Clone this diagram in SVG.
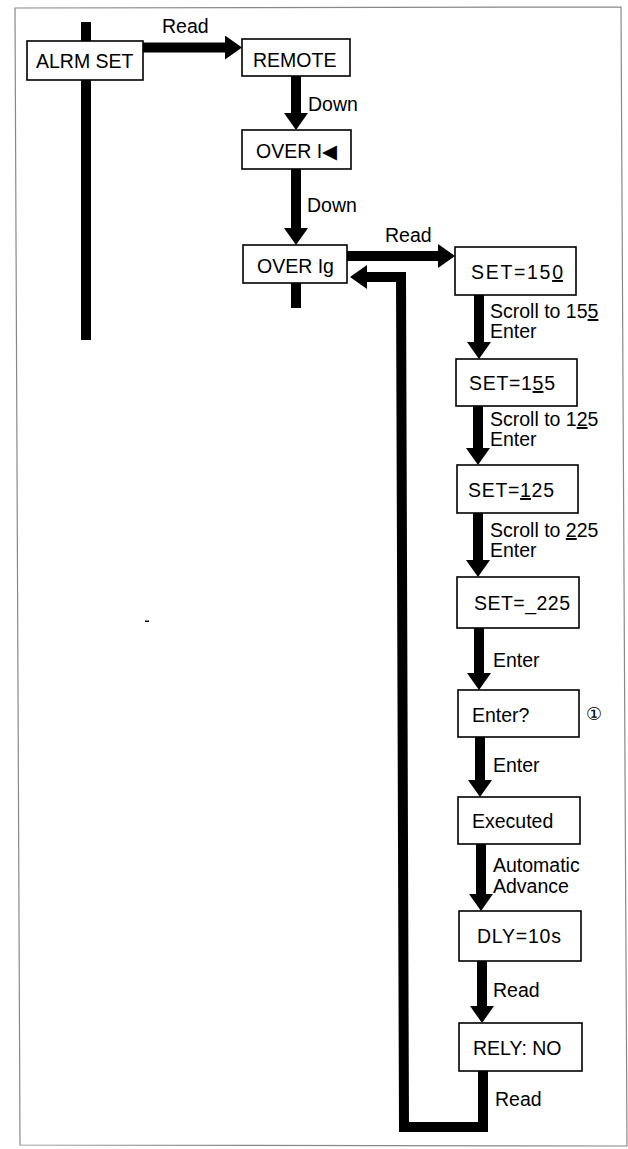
<svg xmlns="http://www.w3.org/2000/svg" width="628" height="1149" viewBox="0 0 628 1149">
<style>
.box{fill:#fff;stroke:#000;stroke-width:1.6}
.t{font-family:"Liberation Sans","DejaVu Sans","Noto Sans CJK SC",sans-serif;font-size:19.5px;fill:#000}
.c{fill:none;stroke:#000;stroke-width:10;stroke-linejoin:miter}
.u{text-decoration:underline}
</style>
<defs>
<marker id="ah" markerUnits="userSpaceOnUse" markerWidth="17" markerHeight="24" viewBox="0 0 17 24" refX="0" refY="12" orient="auto"><path d="M0,0L17,12L0,24Z" fill="#000"/></marker>
</defs>
<rect width="628" height="1149" fill="#fff"/>
<path d="M15,8 L621,7 L627,1146 L20,1145 Z" fill="none" stroke="#888" stroke-width="1.2"/>
<rect x="145" y="620.5" width="4" height="1.5" fill="#000"/>
<g id="connectors">
<path class="c" d="M86,22 V340"/>
<path class="c" d="M143,47.5 H225" stroke-width="9" marker-end="url(#ah)"/>
<path class="c" d="M296,76 V113" marker-end="url(#ah)"/>
<path class="c" d="M296,169 V228" marker-end="url(#ah)"/>
<path class="c" d="M296,283 V308"/>
<path class="c" d="M347,256 H438" stroke-width="9" marker-end="url(#ah)"/>
<path class="c" d="M479,295 V342" marker-end="url(#ah)"/>
<path class="c" d="M478,406 V448" marker-end="url(#ah)"/>
<path class="c" d="M478,513 V560" marker-end="url(#ah)"/>
<path class="c" d="M479,628 V673" marker-end="url(#ah)"/>
<path class="c" d="M480,737 V780" marker-end="url(#ah)"/>
<path class="c" d="M481,844 V894" marker-end="url(#ah)"/>
<path class="c" d="M482,961 V1006" marker-end="url(#ah)"/>
<path class="c" d="M483,1071 V1127 H404 L401,277 H367" marker-end="url(#ah)"/>
<text class="t" x="162" y="33">Read</text>
<text class="t" x="308" y="111">Down</text>
<text class="t" x="307" y="212">Down</text>
<text class="t" x="385" y="242">Read</text>
<text class="t" x="490" y="318">Scroll to 15<tspan class="u">5</tspan></text>
<text class="t" x="490" y="338">Enter</text>
<text class="t" x="490" y="426">Scroll to 1<tspan class="u">2</tspan>5</text>
<text class="t" x="490" y="446">Enter</text>
<text class="t" x="490" y="537">Scroll to <tspan class="u">2</tspan>25</text>
<text class="t" x="490" y="557">Enter</text>
<text class="t" x="493" y="667">Enter</text>
<text class="t" x="493" y="772">Enter</text>
<text class="t" x="493" y="872">Automatic</text>
<text class="t" x="493" y="893">Advance</text>
<text class="t" x="493" y="997">Read</text>
<text class="t" x="495" y="1106">Read</text>
</g>
<g id="alrm-set"><rect class="box" x="27" y="41" width="116" height="39"/><text class="t" x="36" y="68">ALRM SET</text></g>
<g id="remote"><rect class="box" x="242" y="39" width="108" height="37"/><text class="t" x="253" y="67">REMOTE</text></g>
<g id="over-i"><rect class="box" x="242" y="130" width="109" height="39"/><text class="t" x="256" y="158">OVER I◀</text></g>
<g id="over-ig"><rect class="box" x="243" y="245" width="104" height="38"/><text class="t" x="257" y="273">OVER Ig</text></g>
<g id="set150"><rect class="box" x="455" y="247" width="121" height="48"/><text class="t" x="471" y="279" textLength="92" lengthAdjust="spacing">SET=15<tspan class="u">0</tspan></text></g>
<g id="set155"><rect class="box" x="456" y="359" width="121" height="47"/><text class="t" x="469" y="390" textLength="86" lengthAdjust="spacing">SET=1<tspan class="u">5</tspan>5</text></g>
<g id="set125"><rect class="box" x="457" y="465" width="121" height="48"/><text class="t" x="468" y="497" textLength="86" lengthAdjust="spacing">SET=<tspan class="u">1</tspan>25</text></g>
<g id="set225"><rect class="box" x="457" y="577" width="122" height="51"/><text class="t" x="474" y="610" textLength="96" lengthAdjust="spacing">SET=_225</text></g>
<g id="enterq"><rect class="box" x="458" y="690" width="121" height="47"/><text class="t" x="472" y="722">Enter?</text><text class="t" x="586" y="720" style="font-size:18px">①</text></g>
<g id="executed"><rect class="box" x="458" y="797" width="122" height="47"/><text class="t" x="472" y="828">Executed</text></g>
<g id="dly"><rect class="box" x="459" y="911" width="122" height="50"/><text class="t" x="477" y="943" textLength="84" lengthAdjust="spacing">DLY=10s</text></g>
<g id="rely"><rect class="box" x="459" y="1023" width="123" height="48"/><text class="t" x="473" y="1055">RELY: NO</text></g>
</svg>
